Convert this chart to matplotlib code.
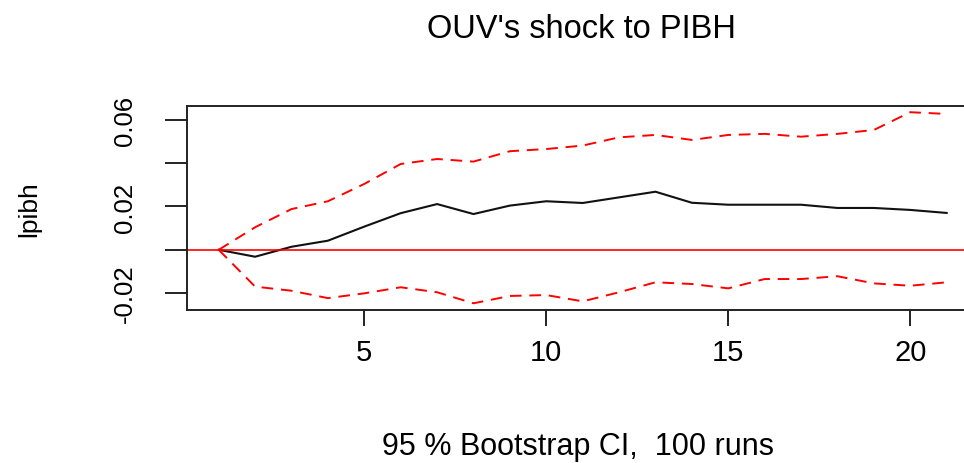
import matplotlib
matplotlib.use("Agg")
import matplotlib.pyplot as plt
import numpy as np

plt.rcParams['font.family'] = ['Liberation Sans', 'DejaVu Sans']

horizon = list(range(1, 22))
irf = [0.0, -0.0032, 0.0014, 0.0042, 0.0107, 0.0169, 0.0211, 0.0165, 0.0204, 0.0224,
       0.0216, 0.0242, 0.0268, 0.0217, 0.0208, 0.0208, 0.0208, 0.0193, 0.0193, 0.0184, 0.0170]
upper = [0.0, 0.0104, 0.0188, 0.0224, 0.0304, 0.0396, 0.0419, 0.0407, 0.0455, 0.0465,
         0.0481, 0.0519, 0.0530, 0.0507, 0.0530, 0.0535, 0.0522, 0.0535, 0.0553, 0.0635, 0.0627]
lower = [0.0, -0.0170, -0.0189, -0.0223, -0.0201, -0.0173, -0.0196, -0.0247, -0.0213, -0.0209,
         -0.0238, -0.0196, -0.0150, -0.0158, -0.0178, -0.0135, -0.0135, -0.0122, -0.0155, -0.0166, -0.0150]
xticks = [5, 10, 15, 20]
yticks = [-0.02, 0.0, 0.02, 0.04, 0.06]
ytick_labels = ["-0.02", "", "0.02", "", "0.06"]

W, H = 964, 464
fig = plt.figure(figsize=(W / 100, H / 100), dpi=100)
left, right, top, bottom = 187.3, 975.8, 106.7, 310.7
ax = fig.add_axes([left / W, 1 - bottom / H, (right - left) / W, (bottom - top) / H])

ax.plot(horizon, irf, color='#111111', lw=1.5)
ax.plot(horizon, upper, color='red', lw=1.4, ls=(0, (6, 4)))
ax.plot(horizon, lower, color='red', lw=1.4, ls=(0, (6, 4)))
ax.axhline(0, color='red', lw=1.2)

ax.set_xlim(0.137, 21.8)
ax.set_ylim(-0.02765, 0.0665)
ax.set_xticks(xticks)
ax.set_xticklabels([str(t) for t in xticks], fontsize=21)
ax.set_yticks(yticks)
ax.set_yticklabels(ytick_labels, fontsize=18.5, rotation=90, va='center')
ax.tick_params(axis='x', direction='out', length=11.5, width=1.4, color='#222222', pad=9)
ax.tick_params(axis='y', direction='out', length=16, width=1.4, color='#222222', pad=20)
for s in ['left', 'top', 'bottom']:
    ax.spines[s].set_linewidth(1.4)
    ax.spines[s].set_color('#222222')
ax.spines['right'].set_visible(False)

fig.text(581.5 / W, 1 - 30 / H, "OUV's shock to PIBH", ha='center', va='center', fontsize=23.5)
fig.text(578.5 / W, 1 - 447 / H, "95 % Bootstrap CI,  100 runs", ha='center', va='center', fontsize=22)
fig.text(29 / W, 1 - 209 / H, "lpibh", ha='center', va='center', rotation=90, fontsize=19)

fig.savefig("out.png", dpi=100)
